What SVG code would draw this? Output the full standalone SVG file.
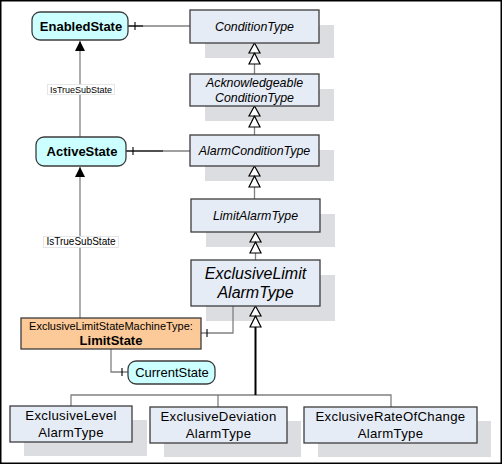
<svg xmlns="http://www.w3.org/2000/svg" width="502" height="464" viewBox="0 0 502 464">
<style>
.type{fill:#e6ecf6;stroke:#3c3c3c;stroke-width:1.3}
.shadow{fill:#dcdde1}
.state{fill:#ccffff;stroke:#3c3c3c;stroke-width:1.3}
.it{font-family:"Liberation Sans",Arial,sans-serif;font-style:italic;font-size:12.4px;fill:#000;text-anchor:middle}
.nm{font-family:"Liberation Sans",Arial,sans-serif;font-size:13px;fill:#000;text-anchor:middle}
.bt{font-family:"Liberation Sans",Arial,sans-serif;font-size:13.2px;letter-spacing:0.3px;fill:#000;text-anchor:middle}
.bd{font-family:"Liberation Sans",Arial,sans-serif;font-size:13px;font-weight:bold;fill:#000;text-anchor:middle}
.lbl{font-family:"Liberation Sans",Arial,sans-serif;font-size:9px;fill:#000;text-anchor:middle}
.gen{fill:#fff;stroke:#000;stroke-width:1.2}
.ln{fill:none;stroke:#808080;stroke-width:1.3}
.lk{fill:none;stroke:#000;stroke-width:1.1}
</style>
<defs>
<marker id="fill" viewBox="0 0 10 10" refX="10" refY="5" markerWidth="10" markerHeight="10" markerUnits="userSpaceOnUse" orient="auto">
<path d="M0,0 L10,5 L0,10 z" fill="#000"/>
</marker>
</defs>
<rect x="0.75" y="0.75" width="500.5" height="462.5" fill="#fff" stroke="#000" stroke-width="1.5"/>

<g id="shadows">
<rect class="shadow" x="205" y="25" width="129" height="33"/>
<rect class="shadow" x="205" y="89" width="129" height="32"/>
<rect class="shadow" x="205" y="150" width="129" height="31"/>
<rect class="shadow" x="206" y="214" width="129" height="33"/>
<rect class="shadow" x="206" y="275" width="129" height="46"/>
<rect class="shadow" x="24" y="420" width="123" height="36"/>
<rect class="shadow" x="164" y="421" width="137" height="36"/>
<rect class="shadow" x="318" y="421" width="173" height="36"/>
</g>

<g id="connectors">
<line class="ln" x1="128" y1="26" x2="190" y2="26"/>
<line class="lk" x1="128" y1="26" x2="143" y2="26"/>
<line class="lk" x1="135" y1="22" x2="135" y2="30"/>
<line class="ln" x1="126" y1="151" x2="190" y2="151"/>
<line class="lk" x1="126" y1="151" x2="163" y2="151"/>
<line class="lk" x1="133" y1="147" x2="133" y2="155"/>
<polyline class="ln" points="233,306 233,333 201,333"/>
<line class="lk" x1="207" y1="329" x2="207" y2="337"/>
<polyline class="ln" points="111,349 111,372 128,372"/>
<line class="lk" x1="122" y1="368" x2="122" y2="376"/>
<line class="ln" x1="80" y1="137" x2="80" y2="41" marker-end="url(#fill)"/>
<line class="ln" x1="80" y1="318" x2="80" y2="167" marker-end="url(#fill)"/>
<rect x="47.5" y="84.5" width="67" height="10" fill="#fff" stroke="#e0e0e0" stroke-width="0.8"/>
<text class="lbl" x="81" y="92.5">IsTrueSubState</text>
<rect x="43.5" y="236.5" width="75" height="11" fill="#fff" stroke="#e0e0e0" stroke-width="0.8"/>
<text class="lbl" x="81" y="245" style="font-size:10px">IsTrueSubState</text>
<line class="ln" x1="254.5" y1="64" x2="254.5" y2="74"/>
<path class="gen" d="M254.5,43 L260,53 L249,53 z M254.5,53 L260,64 L249,64 z"/>
<line class="ln" x1="254.5" y1="127" x2="254.5" y2="135"/>
<path class="gen" d="M254.5,106 L260,116 L249,116 z M254.5,116 L260,127 L249,127 z"/>
<line class="ln" x1="254.5" y1="187" x2="254.5" y2="199"/>
<path class="gen" d="M254.5,166 L260,176 L249,176 z M254.5,176 L260,187 L249,187 z"/>
<line class="ln" x1="255.5" y1="253" x2="255.5" y2="260"/>
<path class="gen" d="M255.5,232 L261,242 L250,242 z M255.5,242 L261,253 L250,253 z"/>
<polyline class="ln" points="71,406 71,395 391,395 391,407"/>
<line class="ln" x1="218" y1="395" x2="218" y2="407"/>
<line x1="255.5" y1="327" x2="255.5" y2="395" stroke="#000" stroke-width="2"/>
<path class="gen" d="M255.5,306 L261,316 L250,316 z M255.5,316 L261,327 L250,327 z"/>
</g>

<g id="EnabledState">
<rect class="state" x="32" y="12" width="96" height="28" rx="8"/>
<text class="bd" x="81" y="31">EnabledState</text>
</g>
<g id="ActiveState">
<rect class="state" x="36" y="137" width="90" height="29" rx="8"/>
<text class="bd" x="82" y="156">ActiveState</text>
</g>
<g id="ConditionType">
<rect class="type" x="190" y="10" width="129" height="33"/>
<text class="it" x="254.5" y="31">ConditionType</text>
</g>
<g id="AcknowledgeableConditionType">
<rect class="type" x="190" y="74" width="129" height="32"/>
<text class="it" x="254.5" y="87">Acknowledgeable</text>
<text class="it" x="254.5" y="102">ConditionType</text>
</g>
<g id="AlarmConditionType">
<rect class="type" x="190" y="135" width="129" height="31"/>
<text class="it" x="254.5" y="155">AlarmConditionType</text>
</g>
<g id="LimitAlarmType">
<rect class="type" x="191" y="199" width="129" height="33"/>
<text class="it" x="255.5" y="220">LimitAlarmType</text>
</g>
<g id="ExclusiveLimitAlarmType">
<rect class="type" x="191" y="260" width="129" height="46"/>
<text class="it" x="255.5" y="279" style="font-size:16px">ExclusiveLimit</text>
<text class="it" x="255.5" y="298" style="font-size:16px">AlarmType</text>
</g>
<g id="LimitState">
<rect x="21" y="318" width="180" height="31" fill="#fcc998" stroke="#3c3c3c" stroke-width="1.3"/>
<text class="nm" x="111" y="330" style="font-size:11px">ExclusiveLimitStateMachineType:</text>
<text class="bd" x="111" y="345">LimitState</text>
</g>
<g id="CurrentState">
<rect class="state" x="128" y="361" width="87" height="23" rx="8"/>
<text class="nm" x="172" y="377">CurrentState</text>
</g>
<g id="ExclusiveLevelAlarmType">
<rect class="type" x="10" y="406" width="122" height="36"/>
<text class="bt" x="71" y="420">ExclusiveLevel</text>
<text class="bt" x="71" y="437">AlarmType</text>
</g>
<g id="ExclusiveDeviationAlarmType">
<rect class="type" x="150" y="407" width="137" height="36"/>
<text class="bt" x="218.5" y="421">ExclusiveDeviation</text>
<text class="bt" x="218.5" y="438">AlarmType</text>
</g>
<g id="ExclusiveRateOfChangeAlarmType">
<rect class="type" x="304" y="407" width="173" height="36"/>
<text class="bt" x="390.5" y="421">ExclusiveRateOfChange</text>
<text class="bt" x="390.5" y="438">AlarmType</text>
</g>
</svg>
